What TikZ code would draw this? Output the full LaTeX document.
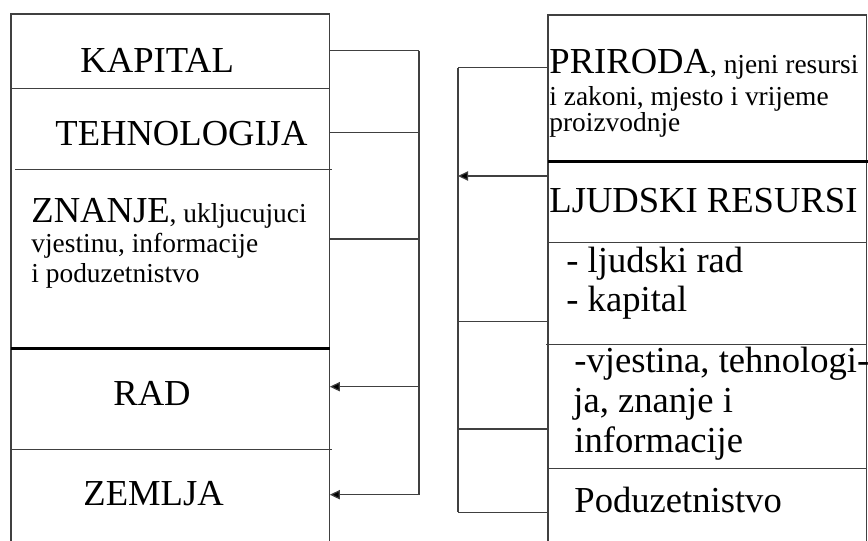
\documentclass[tikz,border=0pt]{standalone}
\usepackage{fontspec}
\setmainfont{Liberation Serif}
\usepackage{tikz}
\usetikzlibrary{positioning,arrows.meta}
\newcommand{\bigtxt}{\fontsize{18.3}{20}\selectfont}
\newcommand{\smalltxt}{\fontsize{13.7}{15}\selectfont}
\tikzset{
  lcell/.style={rectangle,inner sep=0pt,minimum width=159pt,anchor=north west},
  label/.style={inner sep=0pt,anchor=base west,font=\bigtxt},
  frame/.style={draw=black!75,line width=0.6pt},
  thickline/.style={draw=black,line width=1.6pt},
  wire/.style={draw=black!75,line width=0.6pt},
  feed/.style={wire,-{Triangle[length=5pt,width=4.6pt,fill=black]}},
}
\begin{document}
\begin{tikzpicture}[x=0.5pt,y=-0.5pt]
  \useasboundingbox (0,0) rectangle (868,541);
  % Left column cells
  \node[lcell,minimum height=37pt] (kap) at (11,14) {};
  \node[lcell,minimum height=40pt,below=0pt of kap] (teh) {};
  \node[lcell,minimum height=89pt,below=0pt of teh] (zna) {};
  \node[lcell,minimum height=50pt,below=0pt of zna] (rad) {};
  \node[lcell,minimum height=47.5pt,below=0pt of rad] (zem) {};
  % Right column cells
  \node[lcell,minimum height=72.85pt] (pri) at (548,15) {};
  \node[lcell,minimum height=40pt,below=0pt of pri] (lju) {};
  \node[lcell,minimum height=50.5pt,below=0pt of lju] (lrk) {};
  \node[lcell,minimum height=61.65pt,below=0pt of lrk] (vje) {};
  \node[lcell,minimum height=38pt,below=0pt of vje] (pod) {};
  % Frames
  \draw[frame] (zem.south west) -- (kap.north west) -- (kap.north east) -- (zem.south east);
  \draw[frame] (teh.north west) -- (teh.north east);
  \draw[frame] ([xshift=2pt]zna.north west) -- ([xshift=1pt]zna.north east);
  \draw[thickline] (rad.north west) -- (rad.north east);
  \draw[frame] (zem.north west) -- ([xshift=1pt]zem.north east);
  \draw[frame] (pod.south west) -- (pri.north west) -- (pri.north east) -- (pod.south east);
  \draw[thickline] (lju.north west) -- ([xshift=1pt]lju.north east);
  \draw[frame] (lrk.north west) -- (lrk.north east);
  \draw[frame] ([xshift=-1pt]vje.north west) -- (vje.north east);
  \draw[frame] (pod.north west) -- (pod.north east);
  % Left texts
  \node[label] (kapT) at (80,72.7) {KAPITAL};
  \node[label] (tehT) at (55,145) {TEHNOLOGIJA};
  \node[label] (znaT1) at (31,222.3) {ZNANJE\smalltxt, ukljucujuci};
  \node[label,font=\smalltxt] (znaT2) at (31,252) {vjestinu, informacije};
  \node[label,font=\smalltxt] (znaT3) at (31,282) {i poduzetnistvo};
  \node[label] (radT) at (113,405.7) {RAD};
  \node[label] (zemT) at (83,505) {ZEMLJA};
  % Right texts
  \node[label] (priT1) at (549,73.5) {PRIRODA\smalltxt, njeni resursi};
  \node[label,font=\smalltxt] (priT2) at (549,105) {i zakoni, mjesto i vrijeme};
  \node[label,font=\smalltxt] (priT3) at (549,131.7) {proizvodnje};
  \node[label] (ljuT) at (549,212) {LJUDSKI RESURSI};
  \node[label] (lrkT1) at (566,272) {- ljudski rad};
  \node[label] (lrkT2) at (566,311) {- kapital};
  \node[label] (vjeT1) at (574,372) {-vjestina, tehnologi-};
  \node[label] (vjeT2) at (573,412) {ja, znanje i};
  \node[label] (vjeT3) at (574,452) {informacije};
  \node[label] (podT) at (574,512) {Poduzetnistvo};
  % Left bus
  \coordinate (bL1) at (419,50.7);
  \coordinate (bL2) at (419,132.7);
  \coordinate (bL3) at (419,239);
  \coordinate (bL4) at (419,386.7);
  \coordinate (bL5) at (419,494.7);
  \draw[wire] (bL1) -- (bL5);
  \draw[wire] (kap.east |- bL1) -- (bL1);
  \draw[wire] (teh.east |- bL2) -- (bL2);
  \draw[wire] (zna.east |- bL3) -- (bL3);
  \draw[feed] (bL4) -- (rad.east |- bL4);
  \draw[feed] (bL5) -- (zem.east |- bL5);
  % Right bus
  \coordinate (bR1) at (458,67.7);
  \coordinate (bR2) at (458,176);
  \coordinate (bR3) at (458,321.7);
  \coordinate (bR4) at (458,429);
  \coordinate (bR5) at (458,512.3);
  \draw[wire] (bR1) -- (bR5);
  \draw[wire] (pri.west |- bR1) -- (bR1);
  \draw[feed] (lju.west |- bR2) -- (bR2);
  \draw[wire] (lrk.west |- bR3) -- (bR3);
  \draw[wire] (vje.west |- bR4) -- (bR4);
  \draw[wire] (pod.west |- bR5) -- (bR5);
\end{tikzpicture}
\end{document}
